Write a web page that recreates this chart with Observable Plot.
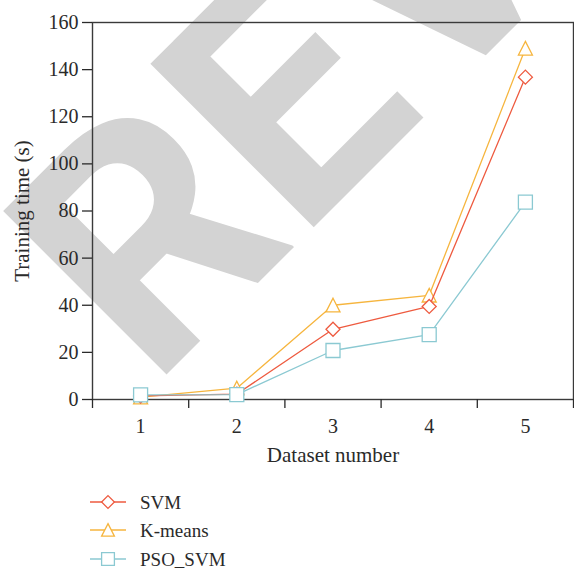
<!DOCTYPE html>
<html><head><meta charset="utf-8">
<script src="https://cdn.jsdelivr.net/npm/d3@7"></script>
<script src="https://cdn.jsdelivr.net/npm/@observablehq/plot@0.6"></script>
<style>
body{margin:0;background:#fff;}
#chart{width:574px;height:571px;position:relative;overflow:hidden;}
#chart svg{display:block;}
</style>
</head><body><div id="chart"></div>
<script>
// ---- data ----
const datasets = [1, 2, 3, 4, 5];
const seriesNames = ["SVM", "K-means", "PSO_SVM"];
const svmTime = [1.5, 2.3, 29.8, 39.5, 136.8];
const kmeansTime = [1.0, 4.8, 40.0, 44.2, 149.0];
const psoSvmTime = [2.0, 2.1, 20.8, 27.5, 83.8];
const yTicks = [0, 20, 40, 60, 80, 100, 120, 140, 160];
const xTickLabels = [1, 2, 3, 4, 5];
const xBoundaryTicks = [0.5, 1.5, 2.5, 3.5, 4.5, 5.5];
const xTitle = "Dataset number";
const yTitle = "Training time (s)";
const watermark = "REVIEW";

const colors = {"SVM": "#ee5a3f", "K-means": "#f6b53e", "PSO_SVM": "#8bc9d2"};

// custom outline symbols (size = PI r^2)
const symTriangle = {draw(ctx, size) { const k = Math.sqrt(size / Math.PI);
  ctx.moveTo(0, -k); ctx.lineTo(k, k * 0.95); ctx.lineTo(-k, k * 0.95); ctx.closePath(); }};
const symDiamond = {draw(ctx, size) { const k = Math.sqrt(size / Math.PI);
  ctx.moveTo(0, -k); ctx.lineTo(k, 0); ctx.lineTo(0, k); ctx.lineTo(-k, 0); ctx.closePath(); }};
const symSquare = {draw(ctx, size) { const k = Math.sqrt(size / Math.PI);
  ctx.moveTo(-k, -k); ctx.lineTo(k, -k); ctx.lineTo(k, k); ctx.lineTo(-k, k); ctx.closePath(); }};
const symbols = {"SVM": symDiamond, "K-means": symTriangle, "PSO_SVM": symSquare};

const valuesBySeries = {"SVM": svmTime, "K-means": kmeansTime, "PSO_SVM": psoSvmTime};
const rows = seriesNames.flatMap(s => datasets.map((d, i) => ({series: s, dataset: d, time: valuesBySeries[s][i]})));

const drawOrder = ["K-means", "SVM", "PSO_SVM"];
const seriesMarks = drawOrder.flatMap(s => {
  const data = rows.filter(r => r.series === s);
  return [
    Plot.line(data, {x: "dataset", y: "time", stroke: colors[s], strokeWidth: 1.3}),
    Plot.dot(data, {x: "dataset", y: "time", stroke: colors[s], fill: "white", strokeWidth: 1.3, r: 7, symbol: symbols[s]})
  ];
});

const svg = Plot.plot({
  width: 574,
  height: 480,
  marginLeft: 92,
  marginRight: 1,
  marginTop: 22,
  marginBottom: 81,
  style: {fontFamily: "'Liberation Serif', serif", fontSize: "20px", color: "#2a2a2a", background: "transparent"},
  x: {domain: [0.5, 5.5]},
  y: {domain: [0, 160]},
  marks: [
    Plot.frame({stroke: "#3a3a3a", strokeWidth: 1.4}),
    Plot.axisY({ticks: yTicks, tickSize: 10, tickPadding: 4, fontSize: 20, label: null, strokeWidth: 1.3, tickFormat: d => String(d)}),
    Plot.axisX({ticks: xTickLabels, tickSize: 0, tickPadding: 19, fontSize: 20, label: null, tickFormat: d => String(d)}),
    Plot.axisX({ticks: xBoundaryTicks, tickSize: 9, tickFormat: () => "", label: null, strokeWidth: 1.3}),
    Plot.text([yTitle], {frameAnchor: "left", text: d => d, rotate: -90, dx: -70, fontSize: 21, textAnchor: "middle", lineAnchor: "middle"}),
    Plot.text([xTitle], {frameAnchor: "bottom", text: d => d, dy: 56, fontSize: 21, textAnchor: "middle", lineAnchor: "middle"}),
    ...seriesMarks
  ]
});

// decorative watermark behind everything
d3.select(svg).insert("text", ":first-child")
  .attr("transform", "translate(152,389) rotate(-45)")
  .attr("text-anchor", "start")
  .attr("font-family", "Roboto, 'Liberation Sans', sans-serif")
  .attr("font-weight", 700)
  .attr("font-size", 325)
  .attr("fill", "#d3d3d3")
  .text(watermark);

const chart = document.getElementById("chart");
chart.appendChild(svg);

// legend
const leg = d3.select(chart).append("svg").attr("width", 574).attr("height", 91);
const legendRowsY = [22, 50, 79];
seriesNames.forEach((s, i) => {
  const g = leg.append("g").attr("transform", `translate(0,${legendRowsY[i]})`);
  g.append("line").attr("x1", 90).attr("x2", 126).attr("y1", 0).attr("y2", 0)
    .attr("stroke", colors[s]).attr("stroke-width", 1.3);
  g.append("path").attr("transform", "translate(108,0)")
    .attr("d", d3.symbol(symbols[s], Math.PI * 6.4 * 6.4)())
    .attr("fill", "white").attr("stroke", colors[s]).attr("stroke-width", 1.3);
  g.append("text").attr("x", 140).attr("y", 0).attr("dy", "0.35em")
    .attr("font-family", "'Liberation Serif', serif").attr("font-size", 19)
    .attr("fill", "#2a2a2a").text(s);
});
</script>
</body></html>
